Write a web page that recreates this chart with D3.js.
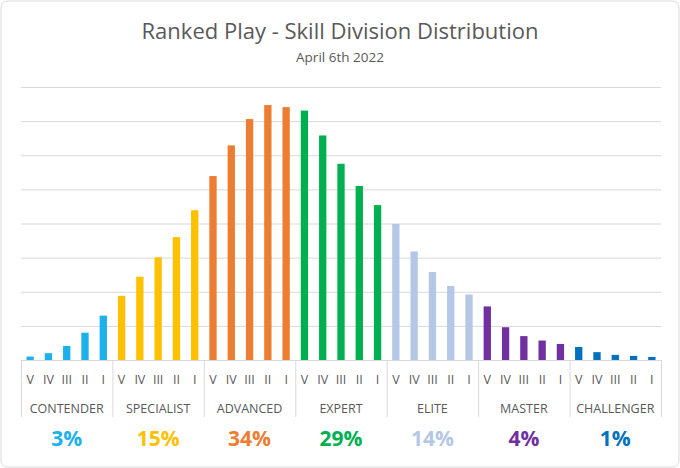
<!DOCTYPE html>
<meta charset="utf-8">
<script src="https://d3js.org/d3.v7.min.js"></script>
<body style="margin:0; background:#fff; font-family: 'Open Sans', 'Liberation Sans', sans-serif">
<div id="chart"></div>
</body>
<script>
    // Data (units = gridline steps)
    var groups = ["CONTENDER", "SPECIALIST", "ADVANCED", "EXPERT", "ELITE", "MASTER", "CHALLENGER"];
    var divisions = ["V", "IV", "III", "II", "I"];
    var shares = ["3%", "15%", "34%", "29%", "14%", "4%", "1%"];
    var colors = ["#1cb0ec", "#ffc000", "#ed7d31", "#00b050", "#b4c7e7", "#7030a0", "#0070c0"];
    var values = [
        0.10, 0.20, 0.41, 0.80, 1.30,
        1.88, 2.44, 3.01, 3.60, 4.39,
        5.39, 6.29, 7.06, 7.47, 7.41,
        7.31, 6.58, 5.75, 5.10, 4.54,
        3.99, 3.18, 2.58, 2.17, 1.92,
        1.57, 0.96, 0.70, 0.57, 0.47,
        0.38, 0.23, 0.15, 0.12, 0.09
    ];

    var W = 680, H = 468;
    var plotLeft = 21, plotRight = 661, plotTop = 87, base = 360;

    var svg = d3.select("#chart").append("svg")
        .attr("width", W).attr("height", H);

    svg.append("rect")
        .attr("x", 1).attr("y", 1).attr("width", W - 2).attr("height", H - 2)
        .attr("rx", 6).attr("fill", "#fff").attr("stroke", "#d9d9d9");

    var bars = values.map(function (v, i) {
        return { key: i, value: v, group: Math.floor(i / 5), div: divisions[i % 5] };
    });

    var x = d3.scaleBand().domain(d3.range(bars.length)).range([plotLeft, plotRight]).paddingInner(0.6).paddingOuter(0.3);
    var xg = d3.scaleBand().domain(d3.range(groups.length)).range([plotLeft, plotRight]);
    var y = d3.scaleLinear().domain([0, 8]).range([base, plotTop]);

    // Gridlines
    svg.append("g").selectAll("line").data(d3.range(1, 9)).enter().append("line")
        .attr("x1", plotLeft).attr("x2", plotRight)
        .attr("y1", function (d) { return y(d) + 0.5; }).attr("y2", function (d) { return y(d) + 0.5; })
        .attr("stroke", "#d9d9d9").attr("stroke-width", 1);

    // Title
    svg.append("text").attr("x", W / 2).attr("y", 39).attr("text-anchor", "middle")
        .attr("font-size", 22).attr("fill", "#595959").text("Ranked Play - Skill Division Distribution");
    svg.append("text").attr("x", W / 2).attr("y", 62).attr("text-anchor", "middle")
        .attr("font-size", 13.5).attr("fill", "#595959").text("April 6th 2022");

    // Bars
    svg.append("g").selectAll("rect").data(bars).enter().append("rect")
        .attr("x", function (d) { return x(d.key); })
        .attr("width", x.bandwidth())
        .attr("y", function (d) { return y(d.value); })
        .attr("height", function (d) { return base - y(d.value); })
        .attr("fill", function (d) { return colors[d.group]; });

    // Axis line and group separators
    svg.append("line").attr("x1", plotLeft).attr("x2", plotRight).attr("y1", base + 0.5).attr("y2", base + 0.5)
        .attr("stroke", "#d9d9d9");
    svg.append("g").selectAll("line").data(d3.range(groups.length + 1)).enter().append("line")
        .attr("x1", function (d) { return (d < groups.length ? xg(d) : plotRight) + 0.5; })
        .attr("x2", function (d) { return (d < groups.length ? xg(d) : plotRight) + 0.5; })
        .attr("y1", base).attr("y2", 417)
        .attr("stroke", "#d9d9d9");

    // Division labels
    svg.append("g").selectAll("text").data(bars).enter().append("text")
        .attr("x", function (d) { return x(d.key) + x.bandwidth() / 2; })
        .attr("y", 384).attr("text-anchor", "middle")
        .attr("font-size", 12.5).attr("fill", "#595959")
        .text(function (d) { return d.div; });

    // Group labels
    svg.append("g").selectAll("text").data(groups).enter().append("text")
        .attr("x", function (d, i) { return xg(i) + xg.bandwidth() / 2; })
        .attr("y", 413).attr("text-anchor", "middle")
        .attr("font-size", 12.5).attr("fill", "#595959")
        .text(function (d) { return d; });

    // Share labels
    svg.append("g").selectAll("text").data(shares).enter().append("text")
        .attr("x", function (d, i) { return xg(i) + xg.bandwidth() / 2; })
        .attr("y", 446).attr("text-anchor", "middle")
        .attr("font-size", 21).attr("font-weight", "bold")
        .attr("fill", function (d, i) { return colors[i]; })
        .text(function (d) { return d; });
</script>
